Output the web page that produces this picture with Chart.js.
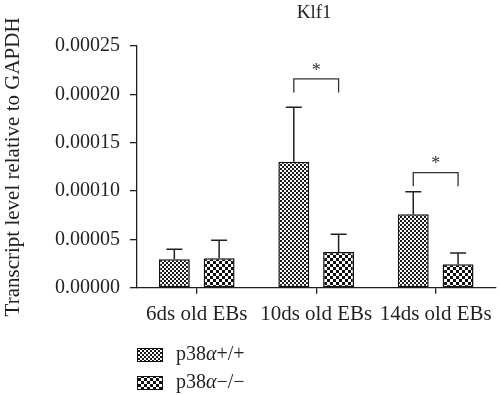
<!DOCTYPE html>
<html>
<head>
<meta charset="utf-8">
<script src="https://cdn.jsdelivr.net/npm/chart.js@4.4.0/dist/chart.umd.min.js"></script>
<style>
html,body{margin:0;padding:0;background:#fff;}
#wrap{width:500px;height:395px;position:relative;}
</style>
</head>
<body>
<div id="wrap"><canvas id="c" width="500" height="395"></canvas></div>
<script>
const chartTitle = "Klf1";
const yAxisTitle = "Transcript level relative to GAPDH";
const categories = ["6ds old EBs", "10ds old EBs", "14ds old EBs"];
const seriesNames = ["p38\u03b1+/+", "p38\u03b1\u2212/\u2212"];
const wildTypeMeans = [0.0000295, 0.0001304, 0.0000761];
const wildTypeErr = [0.0000103, 0.0000563, 0.0000232];
const knockoutMeans = [0.0000305, 0.0000370, 0.0000243];
const knockoutErr = [0.0000187, 0.0000184, 0.0000117];
const yTicks = [0, 0.00005, 0.00010, 0.00015, 0.00020, 0.00025];
// significance brackets: category index, bracket top value, leg bottom value, label
const sigCats = [1, 2];
const sigTop = [0.000216, 0.000119];
const sigLeg = [0.000202, 0.000105];
const sigLabel = ["*", "*"];

const FONT = "'Liberation Serif', 'DejaVu Serif', serif";
const INK = "#231f20";

function makePattern(kind) {
  const p = document.createElement('canvas');
  const ctx = p.getContext('2d');
  if (kind === 'fine') {
    p.width = 4; p.height = 4;
    ctx.fillStyle = '#fff'; ctx.fillRect(0,0,4,4);
    ctx.fillStyle = '#1a1a1a';
    ctx.fillRect(0,0,2,2); ctx.fillRect(2,2,2,2);
  } else {
    p.width = 6; p.height = 6;
    ctx.fillStyle = '#fff'; ctx.fillRect(0,0,6,6);
    ctx.fillStyle = '#111';
    ctx.fillRect(0,0,3,3); ctx.fillRect(3,3,3,3);
  }
  return document.getElementById('c').getContext('2d').createPattern(p, 'repeat');
}
const patterns = [makePattern('fine'), makePattern('coarse')];
const errArrays = [wildTypeErr, knockoutErr];

const overlay = {
  id: 'overlay',
  afterDatasetsDraw(chart) {
    const ctx = chart.ctx;
    const y = chart.scales.y;
    const area = chart.chartArea;
    ctx.save();
    // error bars
    ctx.strokeStyle = INK;
    ctx.lineWidth = 1.5;
    chart.data.datasets.forEach((ds, di) => {
      const meta = chart.getDatasetMeta(di);
      meta.data.forEach((bar, i) => {
        const top = ds.data[i];
        const yt = y.getPixelForValue(top + errArrays[di][i]);
        const yb = y.getPixelForValue(top);
        ctx.beginPath();
        ctx.moveTo(bar.x, yb); ctx.lineTo(bar.x, yt);
        ctx.moveTo(bar.x - 8, yt); ctx.lineTo(bar.x + 8, yt);
        ctx.stroke();
      });
    });
    // significance brackets
    ctx.lineWidth = 1.3;
    ctx.strokeStyle = '#333';
    sigCats.forEach((ci, k) => {
      const x1 = chart.getDatasetMeta(0).data[ci].x;
      const x2 = chart.getDatasetMeta(1).data[ci].x;
      const yt = y.getPixelForValue(sigTop[k]);
      const yl = y.getPixelForValue(sigLeg[k]);
      ctx.beginPath();
      ctx.moveTo(x1, yl); ctx.lineTo(x1, yt); ctx.lineTo(x2, yt); ctx.lineTo(x2, yl);
      ctx.stroke();
      ctx.fillStyle = '#333';
      ctx.font = "18px " + FONT;
      ctx.textAlign = 'center';
      ctx.textBaseline = 'middle';
      ctx.fillText(sigLabel[k], (x1 + x2) / 2, yt - 8);
    });
    // title
    ctx.fillStyle = INK;
    ctx.font = "19px " + FONT;
    ctx.textAlign = 'center';
    ctx.textBaseline = 'alphabetic';
    ctx.fillText(chartTitle, (area.left + area.right) / 2 - 2, 18);
    // legend
    const lx = area.left, rows = [355, 383];
    seriesNames.forEach((name, i) => {
      const cy = rows[i];
      ctx.fillStyle = patterns[i];
      ctx.fillRect(lx, cy - 7, 26, 14);
      ctx.strokeStyle = '#111';
      ctx.lineWidth = 1;
      ctx.strokeRect(lx + 0.5, cy - 6.5, 25, 13);
      ctx.fillStyle = INK;
      ctx.textAlign = 'left';
      ctx.textBaseline = 'middle';
      const parts = name.split('\u03b1');
      let x = lx + 39;
      ctx.font = "20px " + FONT;
      ctx.fillText(parts[0], x, cy); x += ctx.measureText(parts[0]).width;
      ctx.font = "italic 20px " + FONT;
      ctx.fillText('\u03b1', x, cy); x += ctx.measureText('\u03b1').width;
      ctx.font = "20px " + FONT;
      ctx.fillText(parts[1], x, cy);
    });
    ctx.restore();
  }
};

new Chart(document.getElementById('c'), {
  type: 'bar',
  data: {
    labels: categories,
    datasets: [
      { label: seriesNames[0], data: wildTypeMeans, backgroundColor: patterns[0], borderColor: '#111', borderWidth: 1.5, borderSkipped: false },
      { label: seriesNames[1], data: knockoutMeans, backgroundColor: patterns[1], borderColor: '#111', borderWidth: 1.5, borderSkipped: false }
    ]
  },
  options: {
    responsive: false,
    animation: false,
    events: [],
    layout: { padding: { left: 0, right: 2, top: 46, bottom: 60 } },
    plugins: { legend: { display: false }, title: { display: false }, tooltip: { enabled: false } },
    datasets: { bar: { categoryPercentage: 0.75, barPercentage: 0.69 } },
    scales: {
      x: {
        grid: { display: true, drawOnChartArea: false, offset: false, tickLength: 6, color: INK, lineWidth: 1.3 },
        border: { display: true, color: INK, width: 1.3 },
        ticks: { color: INK, font: { family: FONT, size: 21 }, padding: 8, maxRotation: 0, autoSkip: false }
      },
      y: {
        min: 0, max: 0.00025,
        afterFit(scale) { scale.width = 137; },
        afterBuildTicks(scale) { scale.ticks = yTicks.map(v => ({ value: v })); },
        grid: { display: true, drawOnChartArea: false, tickLength: 7, color: INK, lineWidth: 1.3 },
        border: { display: true, color: INK, width: 1.3 },
        ticks: { color: INK, font: { family: FONT, size: 20 }, padding: 10, callback: v => Number(v).toFixed(5) },
        title: { display: true, text: yAxisTitle, color: INK, font: { family: FONT, size: 21 }, padding: { top: 1, bottom: 0 } }
      }
    }
  },
  plugins: [overlay]
});
</script>
</body>
</html>
